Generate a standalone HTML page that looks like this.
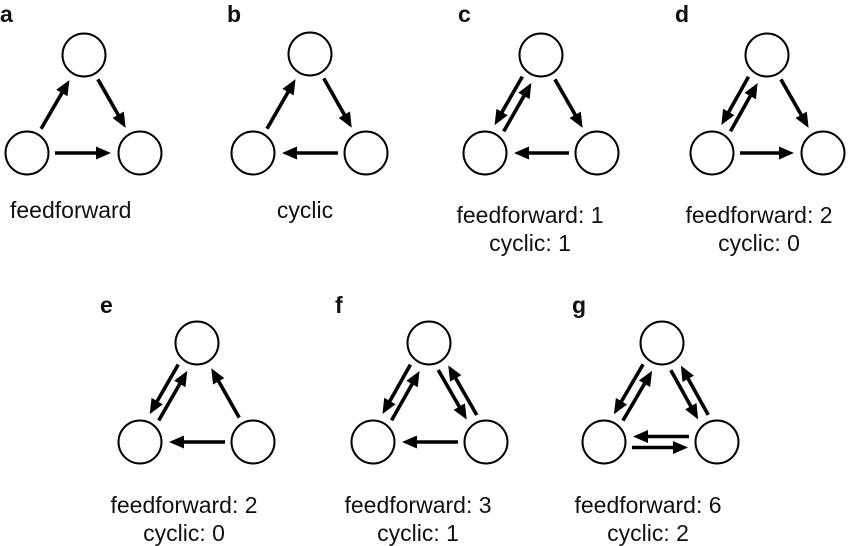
<!DOCTYPE html>
<html><head><meta charset="utf-8"><style>
html,body{margin:0;padding:0;background:#fff;}
svg{display:block;}
text{font-family:"Liberation Sans",sans-serif;fill:#111;}
</style></head><body>
<svg id="s" width="850" height="546" viewBox="0 0 850 546" xmlns="http://www.w3.org/2000/svg">
<g id="g"></g>
</svg>
<script>
var NS="http://www.w3.org/2000/svg",G=document.getElementById('g');
function el(t,a,txt){var e=document.createElementNS(NS,t);for(var k in a)e.setAttribute(k,a[k]);if(txt)e.textContent=txt;G.appendChild(e);return e;}
function arrow(a,b,off){
 var dx=b[0]-a[0],dy=b[1]-a[1],L=Math.hypot(dx,dy),ux=dx/L,uy=dy/L,px=-uy,py=ux;
 var sx=a[0]+ux*28+px*off,sy=a[1]+uy*28+py*off,tx=b[0]-ux*29+px*off,ty=b[1]-uy*29+py*off;
 var hl=15,hw=6.5,bx=tx-ux*hl,by=ty-uy*hl;
 el('line',{x1:sx,y1:sy,x2:bx+ux*2,y2:by+uy*2,stroke:'#000','stroke-width':3.6});
 el('polygon',{points:tx+','+ty+' '+(bx+px*hw)+','+(by+py*hw)+' '+(bx-px*hw)+','+(by-py*hw),fill:'#000'});
}
var panels=[
 {l:'a',lx:0,ly:22,T:[84,55],Lf:[27,153],R:[140,153],e:[['L','T'],['T','R'],['L','R']],t:['feedforward'],tx:10,anchor:'start',ty:218},
 {l:'b',lx:227,ly:22,T:[310,54],Lf:[253,153],R:[366,153],e:[['L','T'],['T','R'],['R','L']],t:['cyclic'],tx:305,ty:218},
 {l:'c',lx:458,ly:22,T:[541,55],Lf:[485,153],R:[597,153],e:[['L','T',1],['T','L',1],['T','R'],['R','L']],t:['feedforward: 1','cyclic: 1'],tx:530,ty:223},
 {l:'d',lx:675,ly:22,T:[767,55],Lf:[712,153],R:[823,153],e:[['L','T',1],['T','L',1],['T','R'],['L','R']],t:['feedforward: 2','cyclic: 0'],tx:759,ty:223},
 {l:'e',lx:100,ly:313,T:[197,343],Lf:[140,442],R:[253,442],e:[['L','T',1],['T','L',1],['R','T'],['R','L']],t:['feedforward: 2','cyclic: 0'],tx:184,ty:513},
 {l:'f',lx:335,ly:313,T:[429,343],Lf:[373,442],R:[486,442],e:[['L','T',1],['T','L',1],['T','R',1],['R','T',1],['R','L']],t:['feedforward: 3','cyclic: 1'],tx:418,ty:513},
 {l:'g',lx:572,ly:313,T:[662,343],Lf:[604,442],R:[717,442],e:[['L','T',1],['T','L',1],['T','R',1],['R','T',1],['L','R',1],['R','L',1]],t:['feedforward: 6','cyclic: 2'],tx:648,ty:513}
];
panels.forEach(function(p){
 el('text',{x:p.lx,y:p.ly,'font-size':23,'font-weight':'bold'},p.l);
 var N={T:p.T,L:p.Lf,R:p.R};
 ['T','L','R'].forEach(function(k){el('circle',{cx:N[k][0],cy:N[k][1],r:21.5,fill:'none',stroke:'#000','stroke-width':2});});
 p.e.forEach(function(e){arrow(N[e[0]],N[e[1]],e[2]?5.5:0);});
 p.t.forEach(function(s,i){el('text',{x:p.tx,y:p.ty+i*28,'font-size':23,'text-anchor':p.anchor||'middle'},s);});
});
</script>
</body></html>
